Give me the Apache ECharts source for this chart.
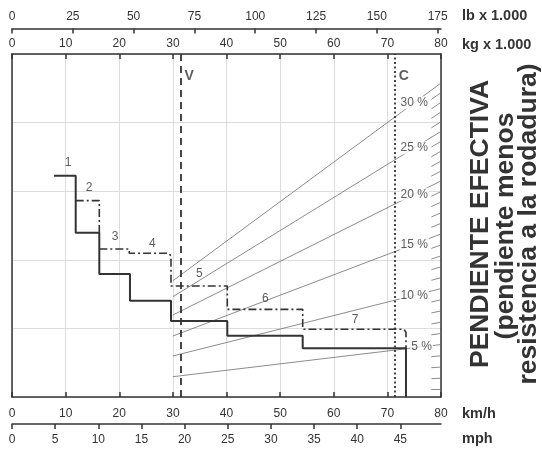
<!DOCTYPE html>
<html>
<head>
<meta charset="utf-8">
<script src="https://cdn.jsdelivr.net/npm/echarts@6/dist/echarts.min.js"></script>
<style>
html,body{margin:0;padding:0;background:#fff;}
#c{width:542px;height:449px;}
</style>
</head>
<body>
<div id="c"></div>
<script>
// ---- data (speed in km/h, effective pull in chart units, weight in t) ----
const kmhMax = 80;
const mphTicks = [0, 5, 10, 15, 20, 25, 30, 35, 40, 45];
const lbTicks = [0, 25, 50, 75, 100, 125, 150, 175];

const solidSpeed = [7.83, 11.88, 11.88, 16.28, 16.28, 22.0, 22.0, 29.65, 29.65, 40.15, 40.15, 54.21, 54.21, 73.47, 73.47];
const solidPull  = [32.26, 32.26, 23.95, 23.95, 17.93, 17.93, 14.04, 14.04, 11.08, 11.08, 8.94, 8.94, 7.10, 7.10, 0];

const dashASpeed = [11.88, 16.28, 16.28];
const dashAPull  = [28.62, 28.62, 23.95];

const dashBSpeed = [16.28, 21.87, 21.87, 29.28, 29.65, 29.65, 40.15, 40.15, 54.21, 54.21, 73.1, 73.47, 73.47];
const dashBPull  = [21.57, 21.57, 20.95, 20.95, 20.5, 16.18, 16.18, 12.78, 12.78, 9.87, 9.87, 9.4, 7.10];

const gearNames = ['1', '2', '3', '4', '5', '6', '7'];
const gearLabelSpeed = [10.44, 14.36, 19.21, 26.16, 34.93, 47.24, 63.96];
const gearLabelPull  = [34.11, 30.47, 23.40, 22.41, 17.93, 14.39, 11.22];

const gradeNames = ['5 %', '10 %', '15 %', '20 %', '25 %', '30 %'];
const gradeFromWeight = 30;
const gradeToWeight = 80;
const gradeStartPull = [2.96, 5.98, 8.89, 11.95, 14.62, 16.95];
const gradeEndPull   = [7.64, 15.80, 23.76, 31.50, 38.72, 45.77];

const minorGradeEndPull = [1.11, 2.74, 4.37, 6.01, 9.27, 10.90, 12.54, 14.17, 17.40, 18.98, 20.57, 22.16,
  25.31, 26.85, 28.40, 29.94, 32.94, 34.39, 35.83, 37.27, 40.13, 41.55, 42.96, 44.37];

const limitNames = ['V', 'C'];
const limitSpeed = [31.38, 71.37];

// ---- build ----
const FONT = '"Liberation Sans", Arial, Helvetica, sans-serif';
const DARK = '#333333';
const GRID = '#dcdcdc';
const zip = (a, b) => a.map((v, i) => [v, b[i]]);

const gradeLabelX = gradeNames.map((n, i) => i === 0 ? 76.4 : 75);
const gradeLines = gradeNames.map((n, i) => ({coords: [[gradeFromWeight, gradeStartPull[i]], [gradeToWeight, gradeEndPull[i]]]}));
const gradeLabelData = gradeNames.map((n, i) => {
  const x = gradeLabelX[i];
  const y = gradeStartPull[i] + (gradeEndPull[i] - gradeStartPull[i]) * (x - gradeFromWeight) / (gradeToWeight - gradeFromWeight);
  return {name: n, value: [x, y]};
});
const minorStart = 78.2;
const minorLines = minorGradeEndPull.map(v => ({coords: [[minorStart, v * minorStart / gradeToWeight], [gradeToWeight, v]]}));

const chart = echarts.init(document.getElementById('c'), null, {renderer: 'canvas'});
const axisLineStyle = {color: DARK, width: 1.5};
const labelStyle = {color: DARK, fontFamily: FONT, fontSize: 12};

chart.setOption({
  animation: false,
  backgroundColor: '#fff',
  grid: {left: 12, right: 101, top: 54, bottom: 52, containLabel: false},
  xAxis: [
    {type: 'value', position: 'bottom', min: 0, max: kmhMax, interval: 10,
      axisLine: {show: true, lineStyle: axisLineStyle},
      axisTick: {show: true, inside: true, length: 5, lineStyle: axisLineStyle},
      axisLabel: Object.assign({margin: 11}, labelStyle),
      splitLine: {show: true, lineStyle: {color: GRID, width: 1}}},
    {type: 'value', position: 'bottom', offset: 27, min: 0, max: kmhMax / 1.609344,
      axisLine: {show: true, onZero: false, lineStyle: axisLineStyle},
      axisTick: {show: true, inside: false, length: 5, customValues: mphTicks, lineStyle: axisLineStyle},
      axisLabel: Object.assign({margin: 10, customValues: mphTicks}, labelStyle),
      splitLine: {show: false}},
    {type: 'value', position: 'top', min: 0, max: kmhMax, interval: 10,
      axisLine: {show: true, onZero: false, lineStyle: axisLineStyle},
      axisTick: {show: true, inside: true, length: 5, lineStyle: axisLineStyle},
      axisLabel: Object.assign({margin: 4}, labelStyle),
      splitLine: {show: false}},
    {type: 'value', position: 'top', offset: 25.5, min: 0, max: kmhMax * 2.2046226,
      axisLine: {show: true, onZero: false, lineStyle: axisLineStyle},
      axisTick: {show: true, inside: true, length: 5, customValues: lbTicks, lineStyle: axisLineStyle},
      axisLabel: Object.assign({margin: 6, customValues: lbTicks}, labelStyle),
      splitLine: {show: false}}
  ],
  yAxis: [
    {type: 'value', position: 'left', min: 0, max: 50, interval: 10,
      axisLine: {show: true, onZero: false, lineStyle: axisLineStyle},
      axisTick: {show: false}, axisLabel: {show: false},
      splitLine: {show: true, lineStyle: {color: GRID, width: 1}}},
    {type: 'value', position: 'right', min: 0, max: 50, interval: 10,
      axisLine: {show: true, onZero: false, lineStyle: axisLineStyle},
      axisTick: {show: false}, axisLabel: {show: false}, splitLine: {show: false}}
  ],
  series: [
    {type: 'lines', coordinateSystem: 'cartesian2d', xAxisIndex: 0, yAxisIndex: 0, z: 2,
      data: gradeLines, lineStyle: {color: '#6e6e6e', width: 0.8, opacity: 1}, silent: true},
    {type: 'lines', coordinateSystem: 'cartesian2d', xAxisIndex: 0, yAxisIndex: 0, z: 2,
      data: minorLines, lineStyle: {color: '#6e6e6e', width: 0.8, opacity: 1}, silent: true},
    {type: 'lines', coordinateSystem: 'cartesian2d', xAxisIndex: 0, yAxisIndex: 0, z: 3,
      data: [{coords: [[limitSpeed[0], 0], [limitSpeed[0], 50]]}],
      lineStyle: {color: DARK, width: 1.8, type: [7, 5], opacity: 1}, silent: true},
    {type: 'lines', coordinateSystem: 'cartesian2d', xAxisIndex: 0, yAxisIndex: 0, z: 3,
      data: [{coords: [[limitSpeed[1], 0], [limitSpeed[1], 50]]}],
      lineStyle: {color: DARK, width: 1.8, type: [2, 2.5], opacity: 1}, silent: true},
    {type: 'line', xAxisIndex: 0, yAxisIndex: 0, z: 4, data: zip(dashASpeed, dashAPull), symbol: 'none',
      lineStyle: {color: DARK, width: 1.6, type: [8, 3, 2, 3]}},
    {type: 'line', xAxisIndex: 0, yAxisIndex: 0, z: 4, data: zip(dashBSpeed, dashBPull), symbol: 'none',
      lineStyle: {color: DARK, width: 1.6, type: [8, 3, 2, 3]}},
    {type: 'line', xAxisIndex: 0, yAxisIndex: 0, z: 5, data: zip(solidSpeed, solidPull), symbol: 'none',
      lineStyle: {color: DARK, width: 2}},
    {type: 'scatter', xAxisIndex: 0, yAxisIndex: 0, z: 6, symbolSize: 0,
      data: gradeLabelData,
      label: {show: true, position: 'inside', formatter: '{b}', color: DARK, fontFamily: FONT, fontSize: 12,
        backgroundColor: '#fff', padding: [1, 1, 0, 1]}},
    {type: 'scatter', xAxisIndex: 0, yAxisIndex: 0, z: 6, symbolSize: 0,
      data: gearNames.map((n, i) => ({name: n, value: [gearLabelSpeed[i], gearLabelPull[i]]})),
      label: {show: true, position: 'inside', formatter: '{b}', color: DARK, fontFamily: FONT, fontSize: 12}},
    {type: 'scatter', xAxisIndex: 0, yAxisIndex: 0, z: 6, symbolSize: 0,
      data: limitNames.map((n, i) => ({name: n, value: [limitSpeed[i], 46.8]})),
      label: {show: true, position: 'inside', offset: [9, 0], formatter: '{b}', color: DARK, fontFamily: FONT,
        fontSize: 14, fontWeight: 'bold'}}
  ],
  graphic: [
    {type: 'text', left: 462, top: 8, style: {text: 'lb x 1.000', font: 'bold 14.5px ' + FONT, fill: DARK}},
    {type: 'text', left: 462, top: 37, style: {text: 'kg x 1.000', font: 'bold 14.5px ' + FONT, fill: DARK}},
    {type: 'text', left: 462, top: 406, style: {text: 'km/h', font: 'bold 14.5px ' + FONT, fill: DARK}},
    {type: 'text', left: 462, top: 431, style: {text: 'mph', font: 'bold 14.5px ' + FONT, fill: DARK}},
    {type: 'text', x: 481, y: 224, rotation: Math.PI / 2,
      style: {text: 'PENDIENTE EFECTIVA', font: 'bold 26.5px ' + FONT, fill: DARK, align: 'center', verticalAlign: 'middle'}},
    {type: 'text', x: 506, y: 226, rotation: Math.PI / 2,
      style: {text: '(pendiente menos', font: 'bold 26.5px ' + FONT, fill: DARK, align: 'center', verticalAlign: 'middle'}},
    {type: 'text', x: 529, y: 224, rotation: Math.PI / 2,
      style: {text: 'resistencia a la rodadura)', font: 'bold 26.5px ' + FONT, fill: DARK, align: 'center', verticalAlign: 'middle'}}
  ]
});
</script>
</body>
</html>
